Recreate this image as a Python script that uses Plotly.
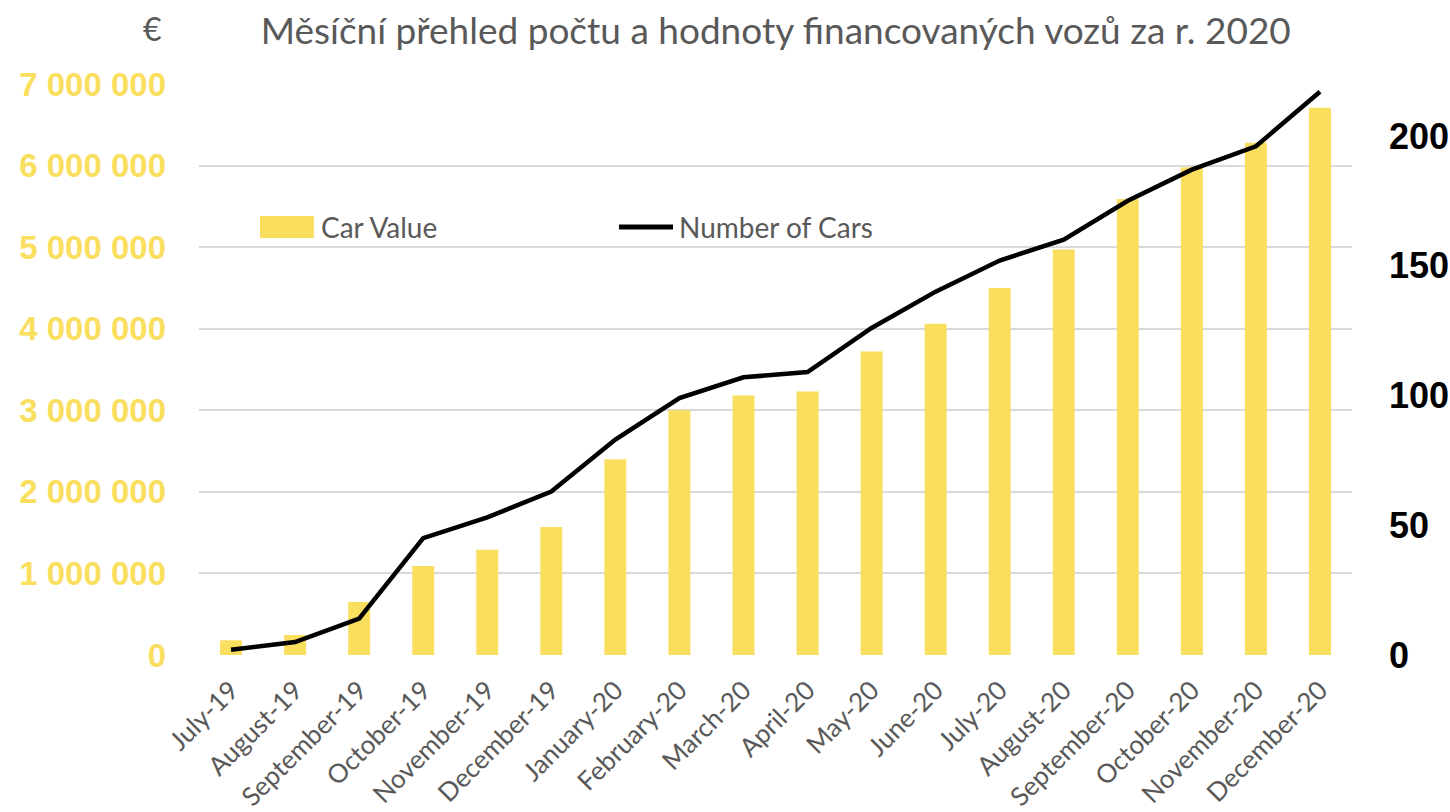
import plotly.graph_objects as go

months = ["July-19", "August-19", "September-19", "October-19", "November-19", "December-19",
          "January-20", "February-20", "March-20", "April-20", "May-20", "June-20",
          "July-20", "August-20", "September-20", "October-20", "November-20", "December-20"]
car_value = [180000, 245000, 650000, 1090000, 1290000, 1570000,
             2400000, 3000000, 3180000, 3230000, 3720000, 4060000,
             4500000, 4970000, 5590000, 5980000, 6280000, 6710000]
num_cars = [2, 5, 14, 45, 53, 63, 83, 99, 107, 109, 126, 140,
            152, 160, 175, 187, 196, 217]

left_tickvals = [0, 1000000, 2000000, 3000000, 4000000, 5000000, 6000000, 7000000]
left_ticktext = ["0", "1 000 000", "2 000 000", "3 000 000", "4 000 000",
                 "5 000 000", "6 000 000", "7 000 000"]
right_tickvals = [0, 50, 100, 150, 200]

YELLOW = "#FADE5E"
GRAY = "#595959"
TXT = "Lato"

fig = go.Figure()
fig.add_trace(go.Bar(x=months, y=car_value, name="Car Value", marker_color=YELLOW,
                     marker_line_width=0, width=0.343, yaxis="y", showlegend=False))
fig.add_trace(go.Scatter(x=months, y=num_cars, name="Number of Cars", mode="lines",
                         line=dict(color="black", width=4.5), yaxis="y2", showlegend=False))

# legend drawn as decorations (paper coordinates)
shapes = [
    dict(type="rect", xref="paper", yref="paper", x0=0.0529, x1=0.0997, y0=0.7303, y1=0.7688,
         fillcolor=YELLOW, line=dict(width=0)),
    dict(type="line", xref="paper", yref="paper", x0=0.3643, x1=0.4111, y0=0.7496, y1=0.7496,
         line=dict(color="black", width=5)),
]
annotations = [
    dict(text="Car Value", xref="paper", yref="paper", x=0.1041, y=0.7496,
         xanchor="left", yanchor="middle", showarrow=False,
         font=dict(family=TXT, size=28, color=GRAY)),
    dict(text="Number of Cars", xref="paper", yref="paper", x=0.4146, y=0.7496,
         xanchor="left", yanchor="middle", showarrow=False,
         font=dict(family=TXT, size=28, color=GRAY)),
    dict(text="€", xref="paper", yref="paper", x=-0.03, y=1.098,
         xanchor="right", yanchor="middle", showarrow=False,
         font=dict(family=TXT, size=32, color=GRAY)),
]

fig.update_layout(
    width=1450, height=812,
    margin=dict(l=199, r=98, t=84, b=157),
    plot_bgcolor="white", paper_bgcolor="white",
    showlegend=False,
    shapes=shapes, annotations=annotations,
    xaxis=dict(tickangle=-45, tickfont=dict(family=TXT, size=26, color=GRAY),
               showgrid=False, showline=False, ticks="", ticklabelstandoff=14,
               automargin=False),
    yaxis=dict(range=[0, 7000000], tickvals=left_tickvals, ticktext=left_ticktext,
               tickfont=dict(family="Liberation Sans", size=33, color=YELLOW, weight="bold"),
               gridcolor="#D9D9D9", gridwidth=1.5, zeroline=False, showline=False,
               ticks="", ticklabelstandoff=32, automargin=False),
    yaxis2=dict(range=[0, 220], tickvals=right_tickvals, overlaying="y", side="right",
                tickfont=dict(family="Liberation Sans", size=36, color="black", weight="bold"),
                showgrid=False, zeroline=False, showline=False, ticks="", ticklabelstandoff=36,
                automargin=False),
    title=dict(text="Měsíční přehled počtu a hodnoty financovaných vozů za r. 2020",
               x=0.535, xanchor="center", y=0.962, yanchor="middle",
               font=dict(family=TXT, size=37, color=GRAY)),
)

fig.write_html("out.html", config={"displayModeBar": False},
               post_script="document.body.style.margin='0px';")
